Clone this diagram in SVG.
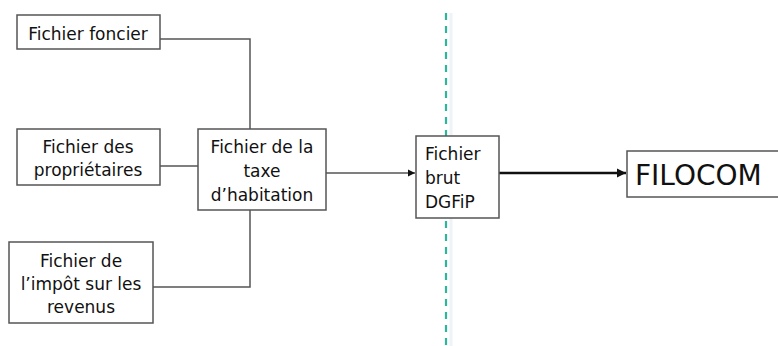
<svg xmlns="http://www.w3.org/2000/svg" width="778" height="346" viewBox="0 0 778 346">
<style>
.box{fill:#fff;stroke:#555;stroke-width:1.5}
.t{font-family:"DejaVu Sans",Verdana,sans-serif;font-size:17px;fill:#111;text-anchor:middle}
.l{text-anchor:start}
.c{fill:none;stroke:#555;stroke-width:1.5}
</style>
<defs>
<marker id="ah" markerWidth="8" markerHeight="8" refX="7" refY="4" orient="auto" markerUnits="userSpaceOnUse">
<path d="M0,0.5 L7,4 L0,7.5 Z" fill="#111"/>
</marker>
<marker id="ah2" markerWidth="10" markerHeight="10" refX="9" refY="5" orient="auto" markerUnits="userSpaceOnUse">
<path d="M0,0.5 L9,5 L0,9.5 Z" fill="#111"/>
</marker>
</defs>
<g id="separator">
<line x1="451" y1="13" x2="451" y2="346" stroke="#eef3f8" stroke-width="3"/>
<line x1="446" y1="13" x2="446" y2="346" stroke="#2db699" stroke-width="2.2" stroke-dasharray="7,6"/>
</g>
<g id="connectors">
<polyline class="c" points="160,39 250,39 250,129"/>
<line class="c" x1="160" y1="166" x2="198" y2="166"/>
<polyline class="c" points="153,287 250,287 250,210"/>
<line class="c" x1="326" y1="173" x2="415" y2="173" stroke="#333" marker-end="url(#ah)"/>
<line x1="499" y1="173" x2="626" y2="173" stroke="#111" stroke-width="2.6" marker-end="url(#ah2)"/>
</g>
<g id="foncier">
<rect class="box" x="17" y="15" width="143" height="34"/>
<text class="t" x="88" y="40">Fichier foncier</text>
</g>
<g id="proprietaires">
<rect class="box" x="17" y="129" width="143" height="56"/>
<text class="t" x="88" y="153">Fichier des</text>
<text class="t" x="88" y="176">propriétaires</text>
</g>
<g id="taxe">
<rect class="box" x="198" y="129" width="128" height="81"/>
<text class="t" x="262" y="153">Fichier de la</text>
<text class="t" x="262" y="177">taxe</text>
<text class="t" x="262" y="201">d’habitation</text>
</g>
<g id="impot">
<rect class="box" x="9" y="242" width="144" height="81"/>
<text class="t" x="81" y="267">Fichier de</text>
<text class="t" x="81" y="290">l’impôt sur les</text>
<text class="t" x="81" y="313">revenus</text>
</g>
<g id="brut">
<rect class="box" x="416" y="136" width="83" height="82"/>
<text class="t l" x="425" y="160">Fichier</text>
<text class="t l" x="425" y="184">brut</text>
<text class="t l" x="425" y="208">DGFiP</text>
</g>
<g id="filocom">
<rect class="box" x="627" y="151" width="160" height="46"/>
<text class="t l" x="635" y="185" style="font-size:28px">FILOCOM</text>
</g>
</svg>
